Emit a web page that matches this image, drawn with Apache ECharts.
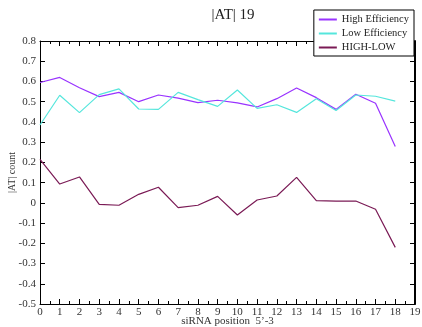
<!DOCTYPE html>
<html><head><meta charset="utf-8">
<script src="https://cdn.jsdelivr.net/npm/echarts@6/dist/echarts.min.js"></script>
<style>html,body{margin:0;padding:0;background:#fff}#c{width:422px;height:327px}</style>
</head><body><div id="c"></div>
<script>
const positions = [0,1,2,3,4,5,6,7,8,9,10,11,12,13,14,15,16,17,18];
const highEff = [0.595,0.62,0.569,0.525,0.546,0.50,0.533,0.518,0.495,0.507,0.494,0.474,0.515,0.568,0.52,0.462,0.537,0.492,0.278];
const lowEff  = [0.385,0.532,0.446,0.535,0.563,0.464,0.462,0.546,0.51,0.477,0.558,0.467,0.485,0.447,0.515,0.456,0.533,0.527,0.503];
const highLow = [0.215,0.093,0.128,-0.008,-0.012,0.042,0.077,-0.024,-0.012,0.032,-0.06,0.014,0.034,0.126,0.011,0.009,0.009,-0.032,-0.22];
const seriesNames = ['High Efficiency','Low Efficiency','HIGH-LOW'];
const colors = ['#9933ff','#55e6dc','#7a1a55'];
const font = '"Liberation Serif", "DejaVu Serif", serif';
const chart = echarts.init(document.getElementById('c'));
const pairs = a => positions.map((p,i)=>[p,a[i]]);
const axisLine = {show:true, onZero:false, lineStyle:{color:'#000', width:1}};
chart.setOption({
  animation:false,
  title:{text:'|AT| 19', left:228, top:3, textAlign:'center', textStyle:{fontFamily:font, fontWeight:'normal', fontSize:15, color:'#222'}},
  grid:{left:40, right:7, top:41, bottom:23, containLabel:false, outerBoundsMode:'none'},
  legend:{data:seriesNames, orient:'vertical', right:8, top:10, icon:'rect', itemWidth:18, itemHeight:2, itemGap:3,
    backgroundColor:'#fff', borderColor:'#000', borderWidth:1, padding:[4,5,3,5],
    textStyle:{fontFamily:font, fontSize:10.5, color:'#222'}},
  xAxis:[
    {type:'value', min:0, max:19, interval:1, position:'bottom', axisLine,
     axisTick:{inside:true, length:5, lineStyle:{color:'#000'}},
     minorTick:{show:true, splitNumber:2, length:3, lineStyle:{color:'#000'}},
     splitLine:{show:false},
     axisLabel:{fontFamily:font, fontSize:11, color:'#333', margin:3},
     name:"siRNA position  5’-3", nameLocation:'middle', nameGap:12, nameMoveOverlap:false,
     nameTextStyle:{fontFamily:font, fontSize:11, color:'#333'}},
    {type:'value', min:0, max:19, interval:1, position:'top', axisLine,
     axisTick:{inside:true, length:5, lineStyle:{color:'#000'}},
     minorTick:{show:true, splitNumber:2, length:3, lineStyle:{color:'#000'}},
     splitLine:{show:false}, axisLabel:{show:false}}
  ],
  yAxis:[
    {type:'value', min:-0.5, max:0.8, interval:0.1, position:'left', axisLine,
     axisTick:{inside:true, length:5, lineStyle:{color:'#000'}},
     splitLine:{show:false},
     axisLabel:{fontFamily:font, fontSize:11, color:'#333', margin:4,
       formatter:v=>{const r=Math.round(v*10)/10; return r===0?'0':String(r);}},
     name:'|AT| count', nameLocation:'middle', nameGap:23, nameMoveOverlap:false,
     nameTextStyle:{fontFamily:font, fontSize:10, color:'#333'}},
    {type:'value', min:-0.5, max:0.8, interval:0.1, position:'right',
     axisLine:{show:true, onZero:false, lineStyle:{color:'#000', width:2}},
     axisTick:{inside:true, length:5, lineStyle:{color:'#000'}},
     splitLine:{show:false}, axisLabel:{show:false}}
  ],
  series:[
    {name:seriesNames[0], type:'line', data:pairs(highEff), symbol:'none', lineStyle:{width:1.2, color:colors[0]}, itemStyle:{color:colors[0]}},
    {name:seriesNames[1], type:'line', data:pairs(lowEff), symbol:'none', lineStyle:{width:1.2, color:colors[1]}, itemStyle:{color:colors[1]}},
    {name:seriesNames[2], type:'line', data:pairs(highLow), symbol:'none', lineStyle:{width:1.2, color:colors[2]}, itemStyle:{color:colors[2]}}
  ]
});
</script></body></html>
